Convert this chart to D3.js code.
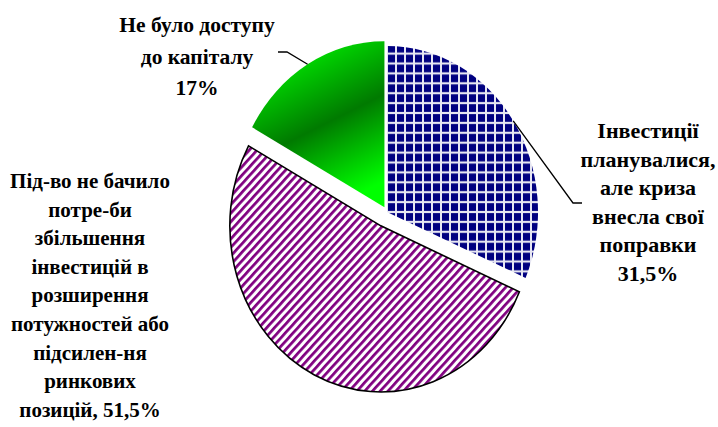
<!DOCTYPE html>
<html>
<head>
<meta charset="utf-8">
<script src="https://cdn.jsdelivr.net/npm/d3@7/dist/d3.min.js"></script>
<style>
  body { margin: 0; background: #fff; }
  text { font-family: "Liberation Serif", "Times New Roman", serif; font-weight: bold; fill: #000; }
</style>
</head>
<body>
<svg id="chart" width="718" height="427"></svg>
<script>
// data
const categories = [
  'Інвестиції планувалися, але криза внесла свої поправки',
  'Під-во не бачило потре-би збільшення інвестицій в розширення потужностей або підсилен-ня ринкових позицій',
  'Не було доступу до капіталу'
];
const values = [31.5, 51.5, 17];
const valueLabels = ['31,5%', '51,5%', '17%'];
const labelLines = [
  ['Інвестиції', 'планувалися,', 'але криза', 'внесла свої', 'поправки'],
  ['Під-во не бачило', 'потре-би', 'збільшення', 'інвестицій в', 'розширення', 'потужностей або', 'підсилен-ня', 'ринкових', 'позицій,'],
  ['Не було доступу', 'до капіталу']
];
// value goes on its own line (true) or at the end of the last line (false)
const valueOwnLine = [true, false, true];

// layout
const cx = 387, cy = 212, radius = 151, squash = 1.1;
const explode = [0, 14, 5];
const fills = ['url(#grid)', 'url(#stripes)', 'url(#greenGrad)'];
const strokes = ['none', '#000', 'none'];
const labelPos = [
  { x: 648, y: 138, lh: 28.6, size: 22 },
  { x: 90, y: 188, lh: 28.6, size: 21 },
  { x: 197, y: 32, lh: 31.5, size: 21.5 }
];
const leaders = [
  { elbow: [573, 203], end: [582, 203] },
  null,
  { elbow: [287, 52], end: [278, 52] }
];

const svg = d3.select('#chart');
const defs = svg.append('defs');

const grid = defs.append('pattern').attr('id', 'grid')
  .attr('patternUnits', 'userSpaceOnUse').attr('width', 9).attr('height', 9);
grid.append('rect').attr('width', 9).attr('height', 9).attr('fill', '#e6e6f2');
grid.append('rect').attr('x', 1).attr('y', 1).attr('width', 7).attr('height', 7).attr('fill', '#000080');

const stripes = defs.append('pattern').attr('id', 'stripes')
  .attr('patternUnits', 'userSpaceOnUse').attr('width', 5.5).attr('height', 5.5)
  .attr('patternTransform', 'rotate(45)');
stripes.append('rect').attr('width', 5.5).attr('height', 5.5).attr('fill', '#fff');
stripes.append('rect').attr('width', 2.6).attr('height', 5.5).attr('fill', '#800080');

const gg = defs.append('linearGradient').attr('id', 'greenGrad')
  .attr('x1', 0.2).attr('y1', 0).attr('x2', 0.6).attr('y2', 1);
gg.append('stop').attr('offset', 0).attr('stop-color', '#00ff00');
gg.append('stop').attr('offset', 0.55).attr('stop-color', '#007a00');
gg.append('stop').attr('offset', 1).attr('stop-color', '#00ff00');

const pie = d3.pie().sort(null).value(d => d);
const arcs = pie(values);
const arc = d3.arc().innerRadius(0).outerRadius(radius);
const mid = d => (d.startAngle + d.endAngle) / 2;

const g = svg.append('g').attr('transform', `translate(${cx},${cy}) scale(1,${squash})`);

g.selectAll('path')
  .data(arcs)
  .join('path')
  .attr('d', arc)
  .attr('transform', (d, i) => `translate(${Math.sin(mid(d)) * explode[i]},${-Math.cos(mid(d)) * explode[i]})`)
  .attr('fill', (d, i) => fills[i])
  .attr('stroke', (d, i) => strokes[i])
  .attr('stroke-width', 1.6)
  .attr('vector-effect', 'non-scaling-stroke');

// leader lines from the middle of each outer arc
arcs.forEach((d, i) => {
  const L = leaders[i];
  if (!L) return;
  const a = mid(d), r = radius + explode[i];
  const px = cx + Math.sin(a) * r;
  const py = cy - Math.cos(a) * r * squash;
  svg.append('polyline')
    .attr('points', [[px, py], L.elbow, L.end].map(p => p.join(',')).join(' '))
    .attr('fill', 'none').attr('stroke', '#000').attr('stroke-width', 1.3);
});

// labels
arcs.forEach((d, i) => {
  const lines = labelLines[i].slice();
  if (valueOwnLine[i]) lines.push(valueLabels[i]);
  else lines[lines.length - 1] += ' ' + valueLabels[i];
  const p = labelPos[i];
  const t = svg.append('text')
    .attr('text-anchor', 'middle')
    .attr('font-size', p.size);
  lines.forEach((s, k) => {
    t.append('tspan').attr('x', p.x).attr('y', p.y + k * p.lh).text(s);
  });
});
</script>
</body>
</html>
